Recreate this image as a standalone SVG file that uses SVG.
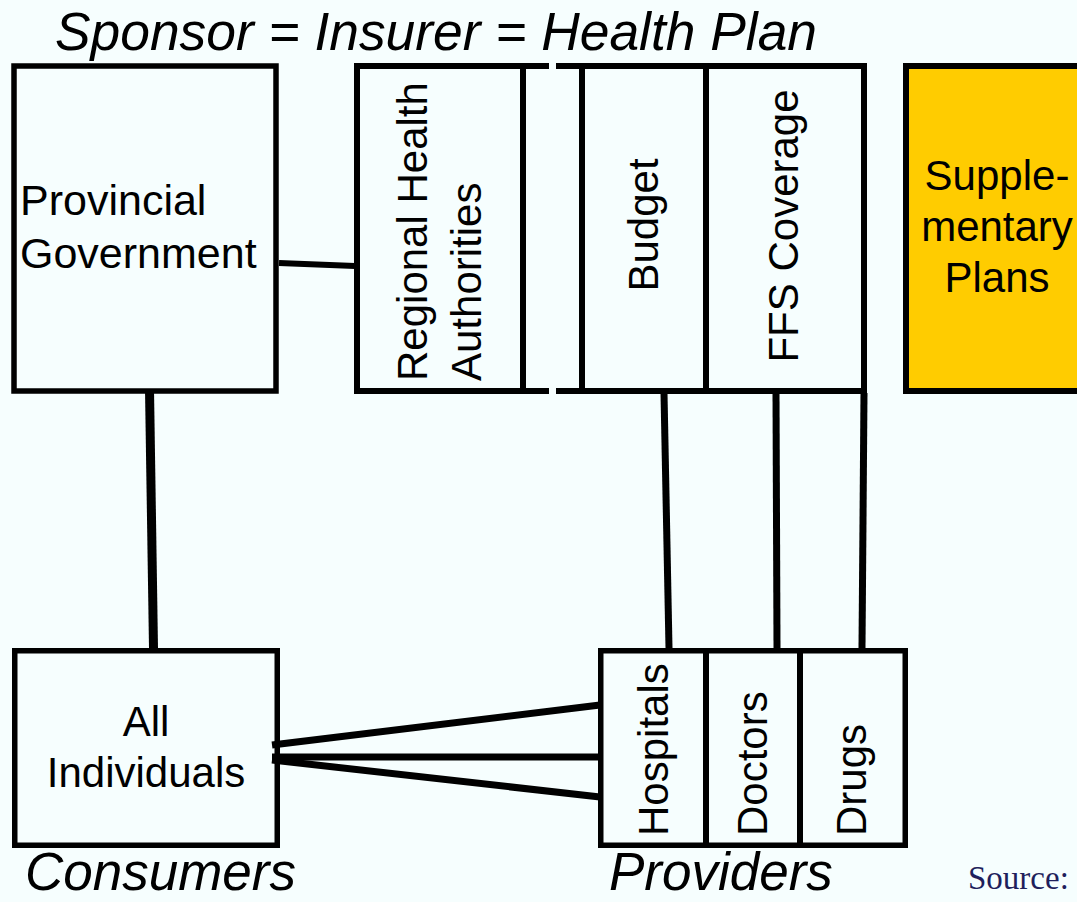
<svg xmlns="http://www.w3.org/2000/svg" width="1077" height="902" viewBox="0 0 1077 902">
<style>
.bx{fill:none;stroke:#000;stroke-width:5.5}
.ln{stroke:#000;stroke-width:6;fill:none}
.w7{stroke-width:7}
.w9{stroke-width:9}
.t{font-family:"Liberation Sans",Arial,sans-serif;font-size:42px;fill:#000}
.big{font-family:"Liberation Sans",Arial,sans-serif;font-size:53px;font-style:italic;fill:#000}
</style>
<rect width="1077" height="902" fill="#F6FEFE"/>
<text class="big" x="55" y="50" textLength="762" lengthAdjust="spacingAndGlyphs">Sponsor = Insurer = Health Plan</text>
<g id="provincial-government">
<rect class="bx" x="14" y="66" width="262" height="325"/>
<text class="t" x="20" y="215" style="font-size:43px">Provincial</text>
<text class="t" x="20" y="268" style="font-size:43px">Government</text>
</g>
<g id="plan-columns">
<path class="ln" d="M354,66H549M556,66H867M354,391H549M556,391H867M357,63V394M523,66V391M582,66V391M706,66V391M864,63V394"/>
<text class="t" transform="translate(427,381) rotate(-90)">Regional Health</text>
<text class="t" transform="translate(481,381) rotate(-90)">Authorities</text>
<text class="t" text-anchor="middle" transform="translate(658,225) rotate(-90)">Budget</text>
<text class="t" text-anchor="middle" transform="translate(798,226) rotate(-90)">FFS Coverage</text>
</g>
<g id="supplementary-plans">
<rect x="906" y="66" width="200" height="325" fill="#FFCC00" stroke="#000" stroke-width="6"/>
<text class="t" text-anchor="middle" x="997" y="190">Supple-</text>
<text class="t" text-anchor="middle" x="997" y="241">mentary</text>
<text class="t" text-anchor="middle" x="997" y="292">Plans</text>
</g>
<g id="all-individuals">
<rect class="bx" x="14.75" y="650.75" width="262.5" height="194.5"/>
<text class="t" text-anchor="middle" x="146" y="736">All</text>
<text class="t" text-anchor="middle" x="146" y="787">Individuals</text>
</g>
<g id="providers">
<rect class="bx" x="600.75" y="650.75" width="304.5" height="194.5"/>
<path class="ln" d="M706,651V845M800,651V845"/>
<text class="t" transform="translate(668,836) rotate(-90)">Hospitals</text>
<text class="t" transform="translate(767,836) rotate(-90)">Doctors</text>
<text class="t" transform="translate(866,836) rotate(-90)">Drugs</text>
</g>
<g id="connectors">
<line class="ln" x1="279" y1="263" x2="355" y2="266"/>
<line class="ln w9" x1="149.5" y1="389" x2="153.5" y2="648"/>
<line class="ln w7" x1="664" y1="393" x2="669" y2="648"/>
<line class="ln w7" x1="776" y1="393" x2="777" y2="648"/>
<line class="ln w7" x1="864" y1="393" x2="862" y2="648"/>
<line class="ln w7" x1="272" y1="745" x2="600" y2="705"/>
<line class="ln w7" x1="272" y1="757" x2="600" y2="757"/>
<line class="ln w7" x1="272" y1="760" x2="600" y2="797"/>
</g>
<text class="big" x="25" y="890">Consumers</text>
<text class="big" x="609" y="890">Providers</text>
<text x="968" y="889" font-family="'Liberation Serif','Times New Roman',serif" font-size="33" fill="#1F1F5C">Source:</text>
</svg>
